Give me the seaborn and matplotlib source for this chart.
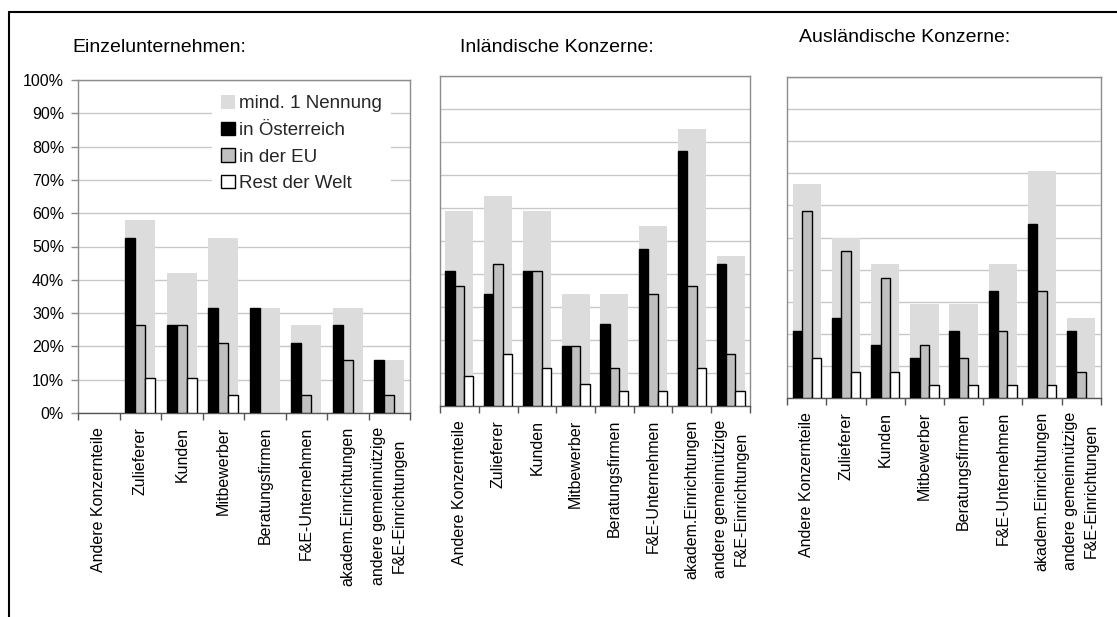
import numpy as np
import pandas as pd
import matplotlib
matplotlib.use("Agg")
import matplotlib.pyplot as plt
from matplotlib import font_manager
from matplotlib.patches import Patch
from matplotlib.lines import Line2D
from matplotlib.ticker import FixedLocator
import seaborn as sns

# ---------------------------------------------------------------- data
categories = [
    "Andere Konzernteile", "Zulieferer", "Kunden", "Mitbewerber",
    "Beratungsfirmen", "F&E-Unternehmen", "akadem.Einrichtungen",
    "andere gemeinnützige\nF&E-Einrichtungen",
]
series_names = ["in Österreich", "in der EU", "Rest der Welt"]
total_name = "mind. 1 Nennung"

# Einzelunternehmen (%)
einzel_total = [0, 57.9, 42.1, 52.6, 31.6, 26.3, 31.6, 15.8]
einzel_at = [0, 52.6, 26.3, 31.6, 31.6, 21.1, 26.3, 15.8]
einzel_eu = [0, 26.3, 26.3, 21.1, 0, 5.3, 15.8, 5.3]
einzel_rw = [0, 10.5, 10.5, 5.3, 0, 0, 0, 0]

# Inländische Konzerne (%)
inland_total = [59.1, 63.6, 59.1, 34.1, 34.1, 54.5, 84.1, 45.5]
inland_at = [40.9, 34.1, 40.9, 18.2, 25.0, 47.7, 77.3, 43.2]
inland_eu = [36.4, 43.2, 40.9, 18.2, 11.4, 34.1, 36.4, 15.9]
inland_rw = [9.1, 15.9, 11.4, 6.8, 4.5, 4.5, 11.4, 4.5]

# Ausländische Konzerne (%)
ausland_total = [66.7, 50.0, 41.7, 29.2, 29.2, 41.7, 70.8, 25.0]
ausland_at = [20.8, 25.0, 16.7, 12.5, 20.8, 33.3, 54.2, 20.8]
ausland_eu = [58.3, 45.8, 37.5, 16.7, 12.5, 20.8, 33.3, 8.3]
ausland_rw = [12.5, 8.3, 8.3, 4.2, 4.2, 4.2, 4.2, 0]

panel_titles = ["Einzelunternehmen:", "Inländische Konzerne:", "Ausländische Konzerne:"]
y_ticks = [0, 10, 20, 30, 40, 50, 60, 70, 80, 90, 100]

# ---------------------------------------------------------------- style
sns.set_theme(style="white")
plt.rcParams["font.family"] = ["Liberation Sans", "DejaVu Sans"]

installed = {f.name for f in font_manager.fontManager.ttflist}
if "Liberation Sans Narrow" in installed:
    cat_font = dict(family=["Liberation Sans Narrow", "Liberation Sans"], size=14)
else:
    cat_font = dict(family=["Liberation Sans", "DejaVu Sans"], size=11.5)

C_TOTAL = "#dcdcdc"
C_AT = "#000000"
C_EU = "#c0c0c0"
C_RW = "#ffffff"
C_GRID = "#c8c8c8"
C_SPINE = "#8c8c8c"

W, H = 1117, 617
fig = plt.figure(figsize=(W / 100, H / 100), dpi=100)
fig.patch.set_facecolor("white")

# axes boxes in pixels: left, top, right, bottom
boxes = [
    (78, 80, 410, 413),
    (440, 76.3, 750, 406),
    (787.3, 76.7, 1100.7, 398.3),
]
title_pos = [(72, 48), (460, 48), (799, 37)]

panels = [
    (einzel_total, einzel_at, einzel_eu, einzel_rw),
    (inland_total, inland_at, inland_eu, inland_rw),
    (ausland_total, ausland_at, ausland_eu, ausland_rw),
]

for i, ((total, at, eu, rw), (l, t, r, b)) in enumerate(zip(panels, boxes)):
    ax = fig.add_axes([l / W, 1 - b / H, (r - l) / W, (b - t) / H])

    df_total = pd.DataFrame({"cat": categories, "val": total})
    df_parts = pd.DataFrame({
        "cat": categories * 3,
        "series": np.repeat(series_names, len(categories)),
        "val": list(at) + list(eu) + list(rw),
    })

    sns.barplot(data=df_total, x="cat", y="val", order=categories,
                color=C_TOTAL, saturation=1, width=0.72, errorbar=None,
                linewidth=0, ax=ax, zorder=2)
    n_total = len(ax.patches)
    sns.barplot(data=df_parts, x="cat", y="val", hue="series", order=categories,
                hue_order=series_names, palette=[C_AT, C_EU, C_RW],
                saturation=1, width=0.72, errorbar=None, edgecolor="black",
                linewidth=1.0, legend=False, ax=ax, zorder=3)
    for p in ax.patches[n_total:]:
        if p.get_height() == 0:
            p.set_visible(False)

    ax.set_xlim(-0.5, len(categories) - 0.5)
    ax.set_ylim(0, 100)
    ax.set_xlabel("")
    ax.set_ylabel("")

    ax.yaxis.set_major_locator(FixedLocator(y_ticks))
    ax.grid(axis="y", color=C_GRID, linewidth=1.0, zorder=0)
    ax.grid(axis="x", visible=False)
    ax.set_axisbelow(True)

    for s in ax.spines.values():
        s.set_visible(True)
        s.set_color(C_SPINE)
        s.set_linewidth(1.0)
    ax.spines["bottom"].set_color("#555555")

    ax.set_xticks(range(len(categories)))
    ax.set_xticklabels(categories, rotation=90, ha="center", va="top",
                       multialignment="center", linespacing=1.5, **cat_font)
    ax.xaxis.set_minor_locator(FixedLocator(np.arange(-0.5, len(categories), 1.0)))
    ax.tick_params(axis="x", which="major", length=0, pad=10, colors="black")
    ax.tick_params(axis="x", which="minor", bottom=True, length=5, width=1,
                   color="#555555")

    if i == 0:
        ax.set_yticklabels([f"{v}%" for v in y_ticks])
        ax.tick_params(axis="y", left=True, length=5, width=1, color=C_SPINE,
                       pad=5, labelsize=11.5, labelcolor="black")
        handles = [
            Patch(facecolor=C_TOTAL, edgecolor="none", label=total_name),
            Patch(facecolor=C_AT, edgecolor="black", linewidth=1, label=series_names[0]),
            Patch(facecolor=C_EU, edgecolor="black", linewidth=1, label=series_names[1]),
            Patch(facecolor=C_RW, edgecolor="black", linewidth=1, label=series_names[2]),
        ]
        leg = ax.legend(handles=handles, loc="upper left",
                        bbox_to_anchor=((212 - l) / (r - l), (b - 86) / (b - t)),
                        borderaxespad=0, frameon=True, fancybox=False,
                        facecolor="white", edgecolor="none", framealpha=1,
                        fontsize=13.5, handlelength=0.7, handleheight=0.7,
                        handletextpad=0.25, labelspacing=0.5, borderpad=0.5)
        leg.set_zorder(5)
    else:
        ax.set_yticklabels([])
        ax.tick_params(axis="y", left=False, length=0)

    tx, ty = title_pos[i]
    fig.text(tx / W, 1 - ty / H, panel_titles[i], ha="left", va="center",
             fontsize=14, color="black")

# outer frame: top and left rules
fig.add_artist(Line2D([8.5 / W, 1], [1 - 11.5 / H, 1 - 11.5 / H],
                      transform=fig.transFigure, color="black", linewidth=1.5))
fig.add_artist(Line2D([8.5 / W, 8.5 / W], [0, 1 - 11.5 / H],
                      transform=fig.transFigure, color="black", linewidth=1.5))

fig.savefig("out.png", dpi=100, facecolor="white")
